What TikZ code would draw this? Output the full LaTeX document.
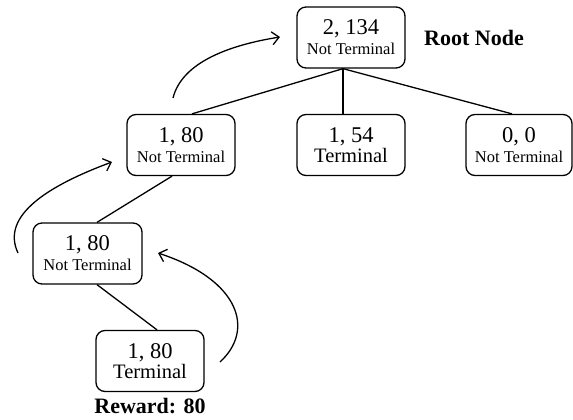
\documentclass[tikz,border=0pt]{standalone}
\usepackage{fontspec}
\setmainfont{Liberation Serif}
\usetikzlibrary{arrows.meta}
\tikzset{
  tnode/.style={draw, line width=1.3pt, rounded corners=9pt, minimum width=108pt, minimum height=61pt, align=center, inner sep=0pt},
  edge/.style={line width=1.3pt},
  backarrow/.style={line width=1.3pt, -{Straight Barb[length=7pt,width=13pt]}},
}
\newcommand{\bignum}[1]{{\fontsize{22.5}{23}\selectfont #1}}
\newcommand{\smalltxt}[1]{{\fontsize{16.5}{17}\selectfont #1}}
\newcommand{\midtxt}[1]{{\fontsize{20.5}{21}\selectfont #1}}
\begin{document}
\begin{tikzpicture}[x=1pt,y=-1pt]
\useasboundingbox (0,0) rectangle (573,420);
\node[tnode] (root) at (351,37.5) {\bignum{2, 134}\\[4pt]\smalltxt{Not Terminal}};
\node[tnode] (n1) at (181,145) {\bignum{1, 80}\\[4pt]\smalltxt{Not Terminal}};
\node[tnode] (n2) at (351,145) {\bignum{1, 54}\\[1pt]\midtxt{Terminal}};
\node[tnode, minimum width=106pt] (n3) at (519,145) {\bignum{0, 0}\\[4pt]\smalltxt{Not Terminal}};
\node[tnode, minimum width=109pt] (n4) at (87.5,253.5) {\bignum{1, 80}\\[4pt]\smalltxt{Not Terminal}};
\node[tnode] (n5) at (150,361) {\bignum{1, 80}\\[1pt]\midtxt{Terminal}};
\node[font=\bfseries\fontsize{22}{23}\selectfont] (rootlbl) at (474,38) {Root Node};
\node[font=\bfseries\fontsize{22}{23}\selectfont] (reward) at (150,406) {Reward: 80};

\draw[edge] ([xshift=-8pt]root.south) -- ([xshift=11pt]n1.north);
\draw[edge] ([xshift=-8pt]root.south) -- ([xshift=-8pt]n2.north);
\draw[edge] ([xshift=-8pt]root.south) -- ([xshift=-7pt]n3.north);
\draw[edge] ([xshift=-9pt]n1.south) -- ([xshift=9.5pt]n4.north);
\draw[edge] ([xshift=9.5pt]n4.south) -- ([xshift=7pt]n5.north);

\coordinate (a1s) at (173,98);
\coordinate (a1e) at (280,37);
\coordinate (a2s) at (18,253);
\coordinate (a2e) at (112,162);
\coordinate (a3s) at (220,362);
\coordinate (a3e) at (158,253);
\draw[backarrow] (a1s) .. controls (182,62) and (230,45) .. (a1e);
\draw[backarrow] (a2s) .. controls (0,215) and (50,185) .. (a2e);
\draw[backarrow] (a3s) .. controls (255,330) and (240,280) .. (a3e);
\end{tikzpicture}
\end{document}
